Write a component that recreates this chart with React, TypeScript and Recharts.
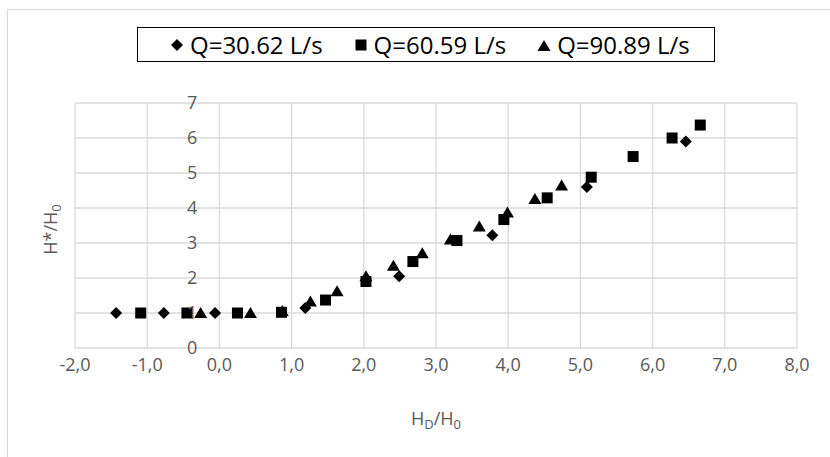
import React from "react";
import { CartesianGrid, Label, Scatter, ScatterChart, XAxis, YAxis } from "recharts";

// Q = 30.62 L/s (diamonds)
const q1Name = "Q=30.62 L/s";
const q1X = [-1.43, -0.77, -0.06, 1.19, 2.49, 3.78, 5.09, 6.46];
const q1Y = [1.0, 1.0, 1.0, 1.14, 2.05, 3.22, 4.6, 5.9];

// Q = 60.59 L/s (squares)
const q2Name = "Q=60.59 L/s";
const q2X = [-1.09, -0.45, 0.25, 0.86, 1.47, 2.03, 2.68, 3.29, 3.94, 4.54, 5.15, 5.73, 6.27, 6.66];
const q2Y = [1.0, 1.0, 1.0, 1.02, 1.37, 1.9, 2.47, 3.07, 3.67, 4.29, 4.88, 5.47, 6.0, 6.37];

// Q = 90.89 L/s (triangles)
const q3Name = "Q=90.89 L/s";
const q3X = [-0.26, 0.43, 0.87, 1.26, 1.63, 2.03, 2.41, 2.81, 3.2, 3.6, 3.99, 4.37, 4.74];
const q3Y = [1.0, 1.0, 1.06, 1.33, 1.62, 2.05, 2.35, 2.71, 3.1, 3.47, 3.87, 4.26, 4.64];

const xTicks = [-2, -1, 0, 1, 2, 3, 4, 5, 6, 7, 8];
const yTicks = [0, 1, 2, 3, 4, 5, 6, 7];

const W = 830;
const H = 457;
const M = { top: 103, right: 33, bottom: 49, left: 14 };
const Y_AXIS_W = 61;
const X_AXIS_H = 60;
const PLOT_LEFT = M.left + Y_AXIS_W;
const PLOT_W = W - PLOT_LEFT - M.right;
const PLOT_BOTTOM = H - M.bottom - X_AXIS_H;

const TEXT = "#595959";
const GRID = "#d9d9d9";
const FONT = "'Open Sans', 'Noto Sans', sans-serif";

const pts = (xs: number[], ys: number[]) => xs.map((x, i) => ({ x, y: ys[i] }));

const fmtX = (v: number) => v.toFixed(1).replace(".", ",");

function Diamond(p: any) {
  const { cx, cy } = p;
  const r = 6;
  return <path d={`M${cx},${cy - r}L${cx + r},${cy}L${cx},${cy + r}L${cx - r},${cy}Z`} fill="#000" />;
}

function Square(p: any) {
  const { cx, cy } = p;
  return <rect x={cx - 5.5} y={cy - 5.5} width={11} height={11} fill="#000" />;
}

function Triangle(p: any) {
  const { cx, cy } = p;
  return <path d={`M${cx},${cy - 6}L${cx + 6.5},${cy + 5}L${cx - 6.5},${cy + 5}Z`} fill="#000" />;
}

// excel puts the value axis where x = 0
function YTick(p: any) {
  const { y, payload } = p;
  const axisX = PLOT_LEFT + ((0 - xTicks[0]) / (xTicks[xTicks.length - 1] - xTicks[0])) * PLOT_W;
  return (
    <text x={axisX - 22} y={y} dy="0.35em" textAnchor="end" fill={TEXT} fontSize={18} fontFamily={FONT}>
      {payload.value}
    </text>
  );
}

function XTick(p: any) {
  const { x, payload } = p;
  return (
    <text x={x} y={PLOT_BOTTOM + 23} textAnchor="middle" fill={TEXT} fontSize={18} fontFamily={FONT}>
      {fmtX(payload.value)}
    </text>
  );
}

function LegendMark({ kind }: { kind: string }) {
  return (
    <svg width={14} height={14} style={{ marginRight: 6 }}>
      {kind === "d" && <Diamond cx={7} cy={7} />}
      {kind === "s" && <Square cx={7} cy={7} />}
      {kind === "t" && <Triangle cx={7} cy={8} />}
    </svg>
  );
}

export default function App() {
  const items = [
    { name: q1Name, kind: "d" },
    { name: q2Name, kind: "s" },
    { name: q3Name, kind: "t" },
  ];
  return (
    <div style={{ position: "relative", width: W, height: H, overflow: "hidden", background: "#fff" }}>
      <style>{`body{margin:0}`}</style>
      <div
        style={{
          position: "absolute",
          left: 7,
          top: 9,
          width: 1000,
          height: 1000,
          border: `1px solid ${GRID}`,
        }}
      />
      <div
        style={{
          position: "absolute",
          left: 137,
          top: 27,
          width: 578,
          height: 35,
          boxSizing: "border-box",
          border: "1.5px solid #000",
          display: "flex",
          alignItems: "center",
          justifyContent: "flex-start",
          paddingLeft: 32,
          gap: 31,
          fontFamily: FONT,
          fontSize: 24,
          color: "#000",
          background: "#fff",
          whiteSpace: "nowrap",
        }}
      >
        {items.map((it) => (
          <div key={it.name} style={{ display: "flex", alignItems: "center" }}>
            <LegendMark kind={it.kind} />
            <span>{it.name}</span>
          </div>
        ))}
      </div>
      <div style={{ position: "absolute", left: 0, top: 0 }}>
        <ScatterChart width={W} height={H} margin={M}>
          <CartesianGrid stroke={GRID} strokeWidth={1.3} />
          <XAxis
            type="number"
            dataKey="x"
            domain={[-2, 8]}
            ticks={xTicks}
            axisLine={false}
            tickLine={false}
            height={X_AXIS_H}
            tick={<XTick />}
            interval={0}
          >
            <Label
              content={(props: any) => {
                const vb = props.viewBox;
                const cx = vb.x + vb.width / 2;
                return (
                  <text x={cx} y={425} textAnchor="middle" fill={TEXT} fontSize={18} fontFamily={FONT}>
                    <tspan>H</tspan>
                    <tspan fontSize={13} dy={4}>D</tspan>
                    <tspan dy={-4}>/H</tspan>
                    <tspan fontSize={13} dy={4}>0</tspan>
                  </text>
                );
              }}
            />
          </XAxis>
          <YAxis
            type="number"
            dataKey="y"
            domain={[0, 7]}
            ticks={yTicks}
            axisLine={false}
            tickLine={false}
            width={Y_AXIS_W}
            tick={<YTick />}
            interval={0}
          >
            <Label
              content={(props: any) => {
                const vb = props.viewBox;
                const cy = vb.y + vb.height / 2 + 4;
                return (
                  <text
                    x={57}
                    y={cy}
                    transform={`rotate(-90 57 ${cy})`}
                    textAnchor="middle"
                    fill={TEXT}
                    fontSize={18}
                    fontFamily={FONT}
                  >
                    <tspan>H*/H</tspan>
                    <tspan fontSize={13} dy={4}>0</tspan>
                  </text>
                );
              }}
            />
          </YAxis>
          <Scatter name={q1Name} data={pts(q1X, q1Y)} shape={<Diamond />} isAnimationActive={false} />
          <Scatter name={q2Name} data={pts(q2X, q2Y)} shape={<Square />} isAnimationActive={false} />
          <Scatter name={q3Name} data={pts(q3X, q3Y)} shape={<Triangle />} isAnimationActive={false} />
        </ScatterChart>
      </div>
    </div>
  );
}
